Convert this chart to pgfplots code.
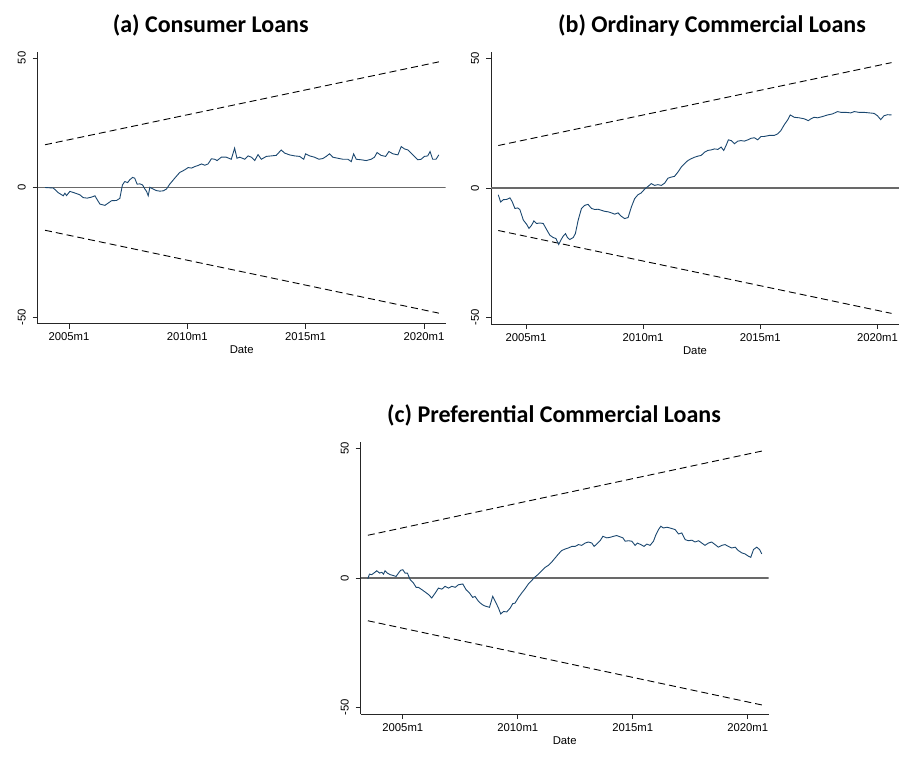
\documentclass[border=0pt]{standalone}
\usepackage{pgfplots}
\pgfplotsset{compat=1.18}
\usepackage{fontspec}
\setmainfont{Liberation Sans}
\newfontfamily\titlefont{Carlito}
\definecolor{stnavy}{RGB}{26,71,111}
\definecolor{zerogray}{RGB}{105,105,105}
\pgfplotsset{
  panel/.style={
    scale only axis, width=408pt, height=272pt,
    axis x line*=bottom, axis y line*=left,
    axis line style={-, line width=0.9pt, color=black!85},
    ymin=-52.5, ymax=52.5,
    ytick={-50,0,50},
    xtick={2005,2010,2015,2020},
    xticklabels={2005m1,2010m1,2015m1,2020m1},
    tick align=outside,
    major tick length=5pt,
    tick style={line width=0.8pt, color=black!85},
    /pgf/number format/assume math mode=true,
    ticklabel style={font=\fontsize{11.3}{13}\selectfont},
    yticklabel style={rotate=90, anchor=south},
    yticklabel shift=3.5pt,
    xticklabel shift=1pt,
    xlabel={Date},
    xlabel style={font=\fontsize{11.3}{13}\selectfont, yshift=2pt},
    anchor=south west,
  },
  dline/.style={black, line width=0.9pt, dash pattern=on 7pt off 4pt},
  sline/.style={stnavy, line width=0.9pt},
  zline/.style={zerogray, line width=1.3pt},
}
\begin{document}
\begin{tikzpicture}
\path[use as bounding box] (0pt,0pt) rectangle (907pt,-756pt);

% Panel (a)
\begin{axis}[panel, at={(37.7pt,-323.5pt)}, xmin=2003.68, xmax=2020.92]
\addplot[zline] coordinates {(2003.68,0) (2020.92,0)};
\addplot[dline] coordinates {(2003.99,16.5) (2020.63,48.5)};
\addplot[dline] coordinates {(2003.99,-16.5) (2020.63,-48.5)};
\addplot[sline] table {
2003.99 0
2004.34 -0.2
2004.55 -2.0
2004.69 -2.8
2004.76 -3.2
2004.83 -2.2
2004.90 -3.1
2005.04 -1.5
2005.18 -1.9
2005.46 -2.8
2005.60 -3.9
2005.77 -4.1
2005.96 -3.7
2006.10 -3.2
2006.20 -4.8
2006.31 -6.4
2006.52 -6.9
2006.66 -6.0
2006.80 -5.1
2007.01 -5.0
2007.15 -4.2
2007.26 1.0
2007.36 2.3
2007.48 1.9
2007.57 3.0
2007.69 3.9
2007.78 3.6
2007.88 1.3
2008.00 1.4
2008.11 1.0
2008.21 -0.6
2008.28 -1.5
2008.35 -3.2
2008.42 0.1
2008.56 -0.6
2008.70 -1.2
2008.84 -1.4
2008.98 -1.3
2009.12 -0.6
2009.26 1.3
2009.47 3.6
2009.68 5.8
2009.89 6.8
2010.04 7.7
2010.18 7.5
2010.32 8.1
2010.46 8.5
2010.60 9.1
2010.74 8.6
2010.88 9.1
2011.02 11.1
2011.16 10.9
2011.26 10.4
2011.44 11.7
2011.65 11.7
2011.86 10.9
2012.00 15.2
2012.10 11.3
2012.22 11.7
2012.43 10.9
2012.57 12.2
2012.71 11.7
2012.85 10.4
2012.99 12.7
2013.13 10.9
2013.34 12.0
2013.55 12.2
2013.76 12.4
2013.97 14.5
2014.11 13.3
2014.32 12.6
2014.54 12.2
2014.75 12.0
2014.92 10.9
2015.00 13.0
2015.17 12.2
2015.38 11.7
2015.56 10.9
2015.73 11.2
2015.87 12.0
2016.01 13.0
2016.15 11.7
2016.36 11.3
2016.58 10.9
2016.79 10.9
2016.93 10.0
2017.03 13.0
2017.14 10.9
2017.35 10.7
2017.56 10.4
2017.77 10.9
2017.91 11.7
2018.02 13.5
2018.19 12.4
2018.38 12.0
2018.52 13.9
2018.69 13.0
2018.90 12.6
2019.04 15.8
2019.18 14.9
2019.32 14.5
2019.53 12.6
2019.74 10.7
2019.88 10.9
2020.02 12.0
2020.16 12.2
2020.26 13.9
2020.37 10.9
2020.51 10.9
2020.63 12.6
};
\end{axis}

% Panel (b)
\begin{axis}[panel, at={(491pt,-324pt)}, xmin=2003.51, xmax=2020.92]
\addplot[zline] coordinates {(2003.51,0) (2020.92,0)};
\addplot[dline] coordinates {(2003.82,16.4) (2020.60,48.4)};
\addplot[dline] coordinates {(2003.82,-16.4) (2020.60,-48.4)};
\addplot[sline] table {
2003.82 -2.6
2003.92 -5.4
2004.04 -4.5
2004.18 -4.4
2004.32 -3.8
2004.42 -5.4
2004.53 -7.9
2004.65 -7.7
2004.74 -8.3
2004.89 -12.4
2005.03 -14.0
2005.13 -15.6
2005.24 -14.4
2005.34 -12.7
2005.45 -13.7
2005.60 -13.5
2005.74 -13.7
2005.88 -16.0
2006.02 -18.2
2006.16 -19.1
2006.28 -19.5
2006.40 -21.8
2006.49 -20.1
2006.59 -18.6
2006.69 -17.6
2006.77 -19.1
2006.87 -19.9
2007.02 -19.1
2007.11 -17.6
2007.23 -12.4
2007.37 -7.9
2007.51 -6.7
2007.65 -6.3
2007.80 -7.9
2007.94 -8.3
2008.08 -8.2
2008.22 -8.6
2008.36 -9.0
2008.51 -9.2
2008.65 -9.6
2008.79 -10.1
2008.93 -9.6
2009.07 -10.9
2009.21 -11.8
2009.36 -11.4
2009.50 -7.3
2009.64 -4.1
2009.78 -2.6
2009.92 -1.9
2010.07 -0.4
2010.21 0.6
2010.35 1.7
2010.49 1.0
2010.63 1.3
2010.78 1.0
2010.92 1.9
2011.06 3.8
2011.20 4.2
2011.34 4.5
2011.49 6.2
2011.63 8.1
2011.77 9.4
2011.91 10.6
2012.05 11.3
2012.20 11.9
2012.34 12.3
2012.48 12.6
2012.62 13.8
2012.76 14.5
2012.90 14.7
2013.05 15.1
2013.19 14.9
2013.33 15.8
2013.44 14.5
2013.54 16.4
2013.64 18.6
2013.76 18.3
2013.90 17.1
2014.04 18.1
2014.18 18.3
2014.32 18.1
2014.47 18.6
2014.61 19.2
2014.75 19.4
2014.89 18.6
2015.03 19.9
2015.17 19.9
2015.39 20.3
2015.60 20.3
2015.74 20.9
2015.88 22.2
2016.03 24.5
2016.17 26.3
2016.28 28.2
2016.45 27.3
2016.66 27.1
2016.88 26.7
2017.05 26.0
2017.16 26.7
2017.30 27.3
2017.45 27.1
2017.66 27.6
2017.87 28.2
2018.08 28.6
2018.30 29.5
2018.44 29.2
2018.65 29.2
2018.86 29.0
2019.01 29.5
2019.22 29.2
2019.43 29.2
2019.65 29.0
2019.86 28.8
2020.00 27.9
2020.14 26.4
2020.28 27.9
2020.43 28.3
2020.60 28.2
};
\end{axis}

% Panel (c)
\begin{axis}[panel, at={(360.7pt,-714pt)}, xmin=2003.17, xmax=2020.91]
\addplot[zline] coordinates {(2003.17,0) (2020.91,0)};
\addplot[dline] coordinates {(2003.48,16.5) (2020.61,49.0)};
\addplot[dline] coordinates {(2003.48,-16.5) (2020.61,-49.0)};
\addplot[sline] table {
2003.48 -0.3
2003.55 1.5
2003.65 1.3
2003.80 2.3
2003.87 2.8
2003.99 1.9
2004.09 2.2
2004.16 1.5
2004.23 2.8
2004.33 1.9
2004.45 1.3
2004.57 1.0
2004.71 0.6
2004.81 1.9
2004.91 3.0
2005.00 3.2
2005.10 1.9
2005.20 1.9
2005.32 -0.6
2005.46 -1.9
2005.58 -3.6
2005.68 -3.6
2005.83 -4.5
2005.97 -5.4
2006.12 -6.4
2006.26 -7.7
2006.41 -5.8
2006.55 -3.9
2006.70 -4.3
2006.84 -3.2
2006.99 -3.9
2007.13 -3.2
2007.28 -3.6
2007.42 -2.6
2007.61 -2.3
2007.75 -4.5
2007.90 -5.8
2008.04 -7.5
2008.14 -7.1
2008.29 -9.0
2008.43 -10.1
2008.54 -10.7
2008.65 -11.0
2008.77 -11.3
2008.91 -7.1
2009.01 -8.8
2009.16 -11.6
2009.26 -13.9
2009.38 -12.9
2009.52 -13.1
2009.67 -11.6
2009.78 -9.9
2009.88 -9.7
2010.03 -7.5
2010.17 -5.8
2010.32 -4.1
2010.46 -2.3
2010.61 -0.9
2010.75 0.4
2010.90 1.5
2011.04 2.8
2011.19 4.1
2011.33 4.9
2011.48 6.2
2011.62 7.7
2011.77 9.3
2011.91 10.6
2012.06 11.2
2012.20 11.6
2012.35 12.2
2012.49 12.2
2012.64 12.9
2012.78 12.6
2012.93 13.5
2013.07 13.9
2013.22 13.5
2013.32 12.2
2013.43 13.1
2013.58 14.4
2013.70 16.1
2013.87 15.5
2014.01 15.7
2014.16 16.1
2014.30 16.4
2014.45 15.9
2014.57 15.5
2014.67 14.2
2014.81 14.4
2014.96 14.2
2015.10 12.6
2015.20 13.5
2015.35 12.9
2015.49 12.2
2015.61 13.1
2015.75 12.6
2015.90 14.2
2016.01 16.8
2016.12 18.7
2016.22 20.0
2016.33 19.3
2016.48 19.6
2016.62 19.3
2016.84 18.7
2016.99 17.0
2017.13 17.4
2017.28 14.8
2017.42 14.4
2017.57 14.6
2017.71 13.9
2017.86 14.4
2018.00 13.5
2018.14 12.6
2018.29 13.5
2018.43 13.9
2018.58 12.9
2018.72 11.9
2018.87 12.6
2019.01 12.9
2019.16 12.2
2019.30 11.6
2019.45 11.9
2019.59 10.6
2019.74 9.7
2019.88 9.3
2020.03 8.4
2020.13 8.0
2020.25 11.0
2020.39 11.9
2020.51 11.0
2020.61 9.3
};
\end{axis}

\node[font=\titlefont\bfseries\fontsize{24}{28}\selectfont] at (210.7pt,-25pt) {(a) Consumer Loans};
\node[font=\titlefont\bfseries\fontsize{24}{28}\selectfont] at (712pt,-25pt) {(b) Ordinary Commercial Loans};
\node[font=\titlefont\bfseries\fontsize{24}{28}\selectfont] at (554pt,-415pt) {(c) Preferential Commercial Loans};
\end{tikzpicture}
\end{document}
